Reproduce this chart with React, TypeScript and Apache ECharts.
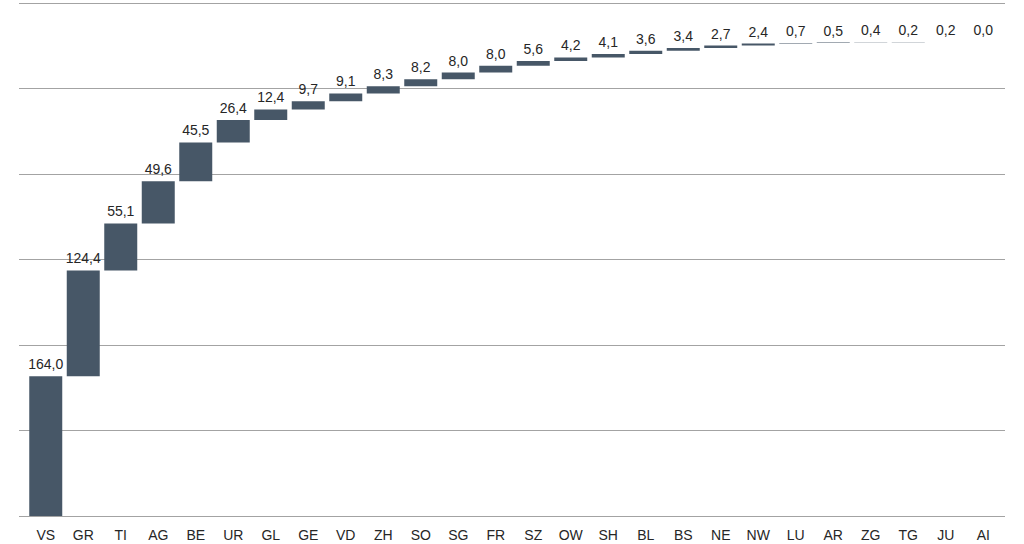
import React, { useEffect, useRef } from "react";
import * as echarts from "echarts";

const categories = ["VS", "GR", "TI", "AG", "BE", "UR", "GL", "GE", "VD", "ZH", "SO", "SG", "FR", "SZ", "OW", "SH", "BL", "BS", "NE", "NW", "LU", "AR", "ZG", "TG", "JU", "AI"];
const values = [164.0, 124.4, 55.1, 49.6, 45.5, 26.4, 12.4, 9.7, 9.1, 8.3, 8.2, 8.0, 8.0, 5.6, 4.2, 4.1, 3.6, 3.4, 2.7, 2.4, 0.7, 0.5, 0.4, 0.2, 0.2, 0.0];
const yMin = 0;
const yMax = 600;
const yInterval = 100;

const bases: number[] = [];
{
  let acc = 0;
  for (const v of values) {
    bases.push(Math.round(acc * 10) / 10);
    acc += v;
  }
}

const FONT = "'Liberation Sans', Arial, sans-serif";

export default function App() {
  const ref = useRef<HTMLDivElement>(null);
  useEffect(() => {
    if (!ref.current) return;
    const chart = echarts.init(ref.current, undefined, { renderer: "svg" });
    chart.setOption({
      animation: false,
      backgroundColor: "#ffffff",
      textStyle: { fontFamily: FONT },
      grid: [
        { left: 19, right: 19, top: 3, bottom: 28 },
        { left: 27, right: 22, top: 5, bottom: 28 },
      ],
      xAxis: [
        {
          type: "category",
          gridIndex: 0,
          data: categories,
          show: false,
        },
        {
          type: "category",
          gridIndex: 1,
          data: categories,
          axisLine: { show: false },
          axisTick: { show: false },
          axisLabel: { color: "#262626", fontSize: 14, margin: 12, fontFamily: FONT, interval: 0 },
        },
      ],
      yAxis: [
        {
          type: "value",
          gridIndex: 0,
          min: yMin,
          max: yMax,
          interval: yInterval,
          axisLine: { show: false },
          axisTick: { show: false },
          axisLabel: { show: false },
          splitLine: { show: true, lineStyle: { color: "#a3a3a3", width: 1 } },
        },
        {
          type: "value",
          gridIndex: 1,
          min: yMin,
          max: yMax,
          interval: yInterval,
          axisLine: { show: false },
          axisTick: { show: false },
          axisLabel: { show: false },
          splitLine: { show: false },
        },
      ],
      series: [
        {
          type: "bar",
          xAxisIndex: 1,
          yAxisIndex: 1,
          stack: "w",
          data: bases,
          itemStyle: { color: "transparent" },
          barWidth: "88%",
          silent: true,
        },
        {
          type: "bar",
          xAxisIndex: 1,
          yAxisIndex: 1,
          stack: "w",
          data: values,
          barWidth: "88%",
          itemStyle: { color: "#475767" },
          label: {
            show: true,
            position: "top",
            distance: 5,
            color: "#262626",
            fontSize: 14,
            fontFamily: FONT,
            formatter: (p: any) => Number(p.value).toFixed(1).replace(".", ","),
          },
        },
      ],
    });
    return () => chart.dispose();
  }, []);
  return (
    <div
      ref={ref}
      style={{ position: "fixed", left: 0, top: 0, width: 1024, height: 544 }}
    />
  );
}
